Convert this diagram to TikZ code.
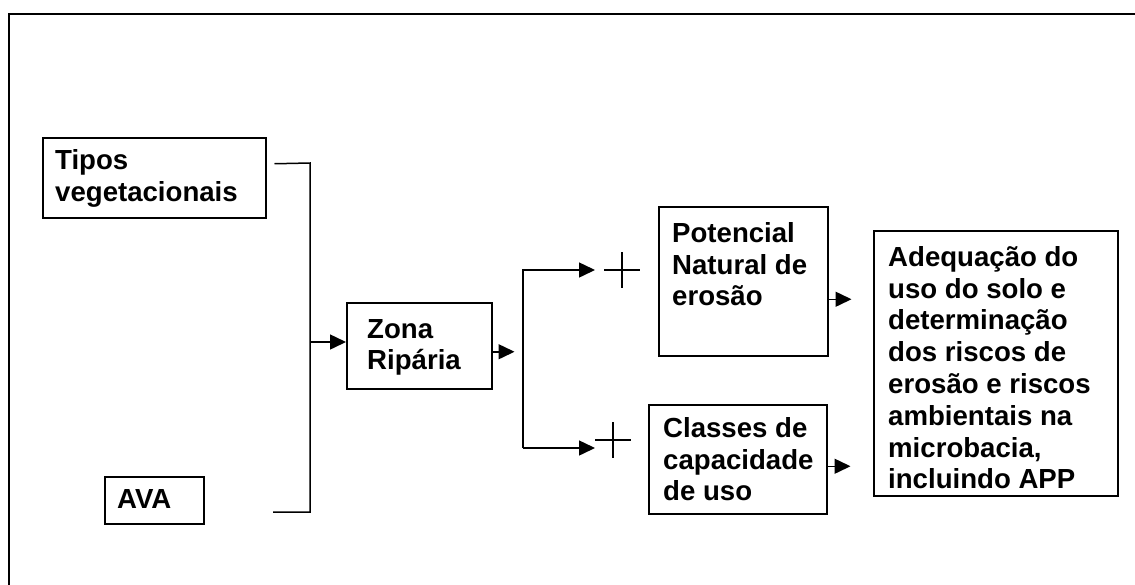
\documentclass[tikz,border=0pt]{standalone}
\usepackage{fontspec}
\setmainfont{Liberation Sans}
\usetikzlibrary{arrows.meta}
\tikzset{
  caixa/.style={draw,line width=1.5pt,rectangle,inner sep=0pt,anchor=north west},
  rotulo/.style={anchor=north west,inner sep=0pt,align=left,font=\fontsize{27.6}{31.8}\selectfont\bfseries},
  linha/.style={line width=1.5pt},
  seta/.style={line width=1.5pt,-{Triangle[length=16pt,width=15pt]}},
}
\begin{document}
\begin{tikzpicture}[x=1pt,y=-1pt]
\useasboundingbox (0,0) rectangle (1135,584);
\clip (0,0) rectangle (1135,584);
\draw[line width=2pt] (9,600) -- (9,14) -- (1150,14);

% caixas
\node[caixa,minimum width=223pt,minimum height=80pt] (tipos) at (42,137) {};
\node[caixa,minimum width=99pt,minimum height=47pt] (ava) at (104,476) {};
\node[caixa,minimum width=145pt,minimum height=86pt] (zona) at (346,302) {};
\node[caixa,minimum width=169pt,minimum height=149pt] (pot) at (658,206) {};
\node[caixa,minimum width=178pt,minimum height=109pt] (cls) at (648,404) {};
\node[caixa,minimum width=244pt,minimum height=265pt] (adeq) at (873,230) {};

\node[rotulo] (tTipos) at (55,149) {Tipos\\vegetacionais};
\node[rotulo] (tAva) at (117,489) {AVA};
\node[rotulo] (tZona) at (367,319) {Zona\\Ripária};
\node[rotulo] (tPot) at (672,222) {Potencial\\Natural de\\erosão};
\node[rotulo] (tCls) at (663,417) {Classes de\\capacidade\\de uso};
\node[rotulo] (tAdeq) at (888,246) {Adequação do\\uso do solo e\\determinação\\dos riscos de\\erosão e riscos\\ambientais na\\microbacia,\\incluindo APP};

% ligacoes
\coordinate (junta) at (310,342);
\draw[linha] (tipos.east) ++(8,-14) -- (310,163) -- (310,512) -- (273,512);
\draw[seta] (junta) -- (zona.west |- junta);
\draw[seta] (zona.east) ++(0,6) -- ++(22,0);

\coordinate (ramo) at (523,270);
\draw[seta] (523,448) -- (ramo) -- ++(72,0);
\draw[seta] (523,448) -- ++(72,0);

\foreach \cx/\cy in {622/270,613/440} {
  \draw[line width=1.2pt] (\cx-18,\cy) -- (\cx+18,\cy) (\cx,\cy-18) -- (\cx,\cy+18);
}

\draw[seta] (pot.east) ++(0,18) -- ++(23,0);
\draw[seta] (cls.east) ++(0,7) -- ++(23,0);
\end{tikzpicture}
\end{document}
